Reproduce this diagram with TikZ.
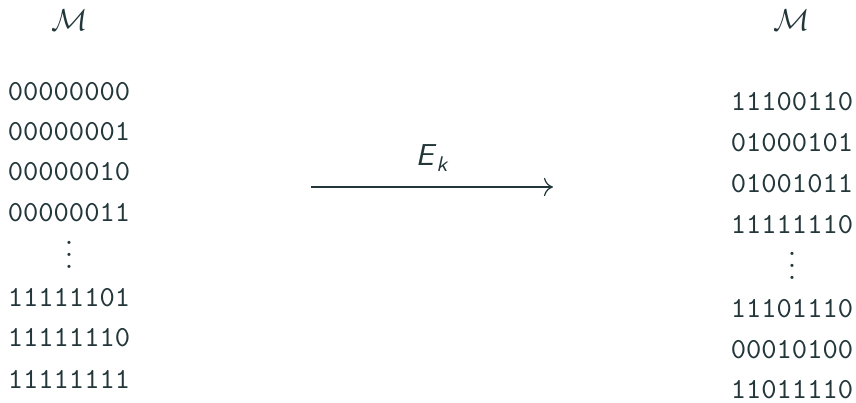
\documentclass[tikz,border=0pt]{standalone}
\usetikzlibrary{arrows.meta}
\definecolor{mtext}{HTML}{23373B}
\begin{document}
\begin{tikzpicture}[x=0.33pt,y=-0.33pt,
  every node/.style={text=mtext,font=\sffamily,inner sep=0pt},
  word/.style={anchor=center,font=\fontsize{9.6}{11}\ttfamily}]
\useasboundingbox (0,0) rectangle (856,402);
\node (ml) at (70,20) {$\mathcal{M}$};
\node (mr) at (792,20) {$\mathcal{M}$};
% left column
\node[word] (l1) at (69,92) {00000000};
\node[word] (l2) at (69,132) {00000001};
\node[word] (l3) at (69,172) {00000010};
\node[word] (l4) at (69,213) {00000011};
\node[word,font=\normalsize] (ld) at (69,246) {$\vdots$};
\node[word] (l5) at (69,298) {11111101};
\node[word] (l6) at (69,338) {11111110};
\node[word] (l7) at (69,379) {11111111};
% right column
\node[word] (r1) at (792,102) {11100110};
\node[word] (r2) at (792,143) {01000101};
\node[word] (r3) at (792,184) {01001011};
\node[word] (r4) at (792,225) {11111110};
\node[word,font=\normalsize] (rd) at (792,257) {$\vdots$};
\node[word] (r5) at (792,309) {11101110};
\node[word] (r6) at (792,350) {00010100};
\node[word] (r7) at (792,390) {11011110};
% arrow
\coordinate (a0) at (311,187);
\coordinate (a1) at (553,187);
\draw[mtext,line width=0.4pt,-{To[length=3pt,width=6pt]}] (a0) -- node[above=5pt] (ek) {\textit{E}\raisebox{-0.45ex}{\scriptsize\textit{k}}} (a1);
\end{tikzpicture}
\end{document}
